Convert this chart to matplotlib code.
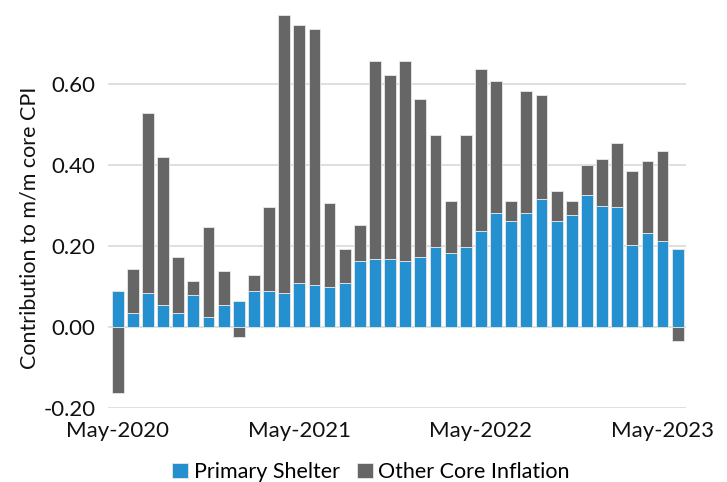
import matplotlib
matplotlib.use("Agg")
import matplotlib.pyplot as plt
import numpy as np

plt.rcParams['font.family'] = ['Lato', 'DejaVu Sans']

# months May-2020 .. Jun-2023
months = ["May-2020", "Jun-2020", "Jul-2020", "Aug-2020", "Sep-2020", "Oct-2020",
          "Nov-2020", "Dec-2020", "Jan-2021", "Feb-2021", "Mar-2021", "Apr-2021",
          "May-2021", "Jun-2021", "Jul-2021", "Aug-2021", "Sep-2021", "Oct-2021",
          "Nov-2021", "Dec-2021", "Jan-2022", "Feb-2022", "Mar-2022", "Apr-2022",
          "May-2022", "Jun-2022", "Jul-2022", "Aug-2022", "Sep-2022", "Oct-2022",
          "Nov-2022", "Dec-2022", "Jan-2023", "Feb-2023", "Mar-2023", "Apr-2023",
          "May-2023", "Jun-2023"]

shelter = [0.088, 0.034, 0.083, 0.054, 0.034, 0.078, 0.024, 0.054, 0.063, 0.088,
           0.088, 0.083, 0.108, 0.103, 0.098, 0.108, 0.162, 0.167, 0.167, 0.162,
           0.172, 0.197, 0.182, 0.197, 0.236, 0.281, 0.261, 0.281, 0.315, 0.261,
           0.276, 0.325, 0.300, 0.296, 0.202, 0.231, 0.212, 0.192]

# total core contribution (shelter + other) where positive
total = [None, 0.142, 0.528, 0.419, 0.172, 0.113, 0.246, 0.138, None, 0.128,
         0.296, 0.770, 0.746, 0.736, 0.305, 0.192, 0.251, 0.657, 0.622, 0.657,
         0.563, 0.473, 0.310, 0.473, 0.637, 0.607, 0.310, 0.583, 0.573, 0.335,
         0.310, 0.400, 0.414, 0.454, 0.384, 0.409, 0.434, None]

# negative "other" values read directly
neg_other = {0: -0.164, 8: -0.025, 37: -0.035}

other = []
for i in range(len(shelter)):
    if total[i] is None:
        other.append(neg_other[i])
    else:
        other.append(round(total[i] - shelter[i], 3))

shelter = np.array(shelter)
other = np.array(other)
x = np.arange(len(months))

blue = "#2590D0"
grey = "#666666"

fig = plt.figure(figsize=(7.27, 4.82), dpi=100)
ax = fig.add_axes([0.1486, 0.1535, 0.795, 0.8403])

ax.bar(x, shelter, width=0.78, color=blue, edgecolor="#e8e8e8", linewidth=0.6,
       label="Primary Shelter", zorder=3)
other_bottom = np.where(other >= 0, shelter, 0)
ax.bar(x, other, bottom=other_bottom, width=0.78, color=grey, edgecolor="#e8e8e8",
       linewidth=0.6, label="Other Core Inflation", zorder=3)

ax.set_ylim(-0.2, 0.8)
ax.set_xlim(-0.64, 37.55)
ax.set_yticks([-0.2, 0.0, 0.2, 0.4, 0.6])
ax.set_yticklabels(["-0.20", "0.00", "0.20", "0.40", "0.60"])
ax.yaxis.grid(True, color="#d9d9d9", linewidth=1.2, zorder=0)
ax.set_xticks([0, 12, 24, 36])
ax.set_xticklabels([months[i] for i in [0, 12, 24, 36]])
ax.tick_params(axis="both", length=0, labelsize=16, colors="#111111")
ax.tick_params(axis="x", pad=9)
ax.tick_params(axis="y", pad=9)
for s in ax.spines.values():
    s.set_visible(False)
ax.set_ylabel("Contribution to m/m core CPI", fontsize=15.5, color="#111111", labelpad=4)
ax.yaxis.set_label_coords(-0.118, 0.445)

ax.legend(loc="center", bbox_to_anchor=(0.455, -0.158), ncol=2, frameon=False,
          fontsize=15.5, handlelength=0.75, handleheight=0.75, handletextpad=0.25,
          columnspacing=0.8)

fig.savefig("out.png", dpi=100)
